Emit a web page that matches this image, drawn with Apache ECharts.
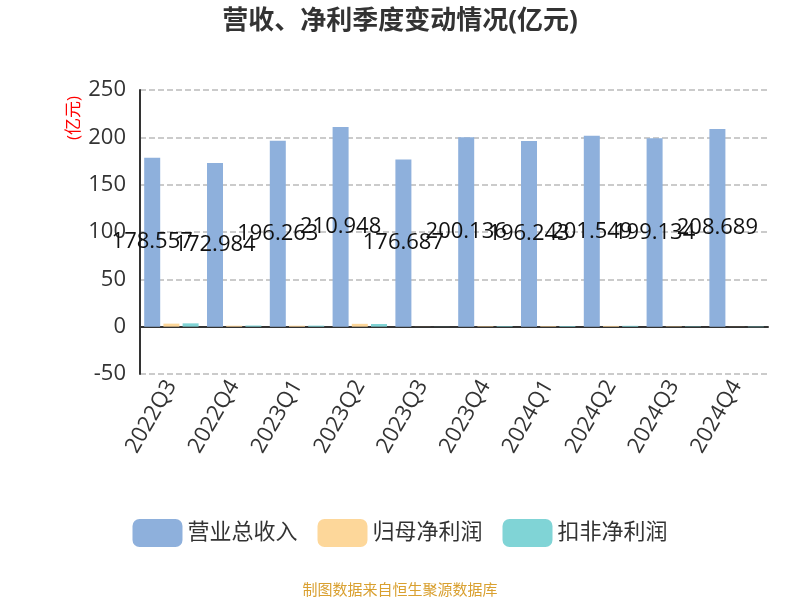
<!DOCTYPE html>
<html><head><meta charset="utf-8">
<script src="https://cdn.jsdelivr.net/npm/echarts@6/dist/echarts.min.js"></script>
<style>body{margin:0}#c{width:800px;height:600px}</style></head>
<body><div id="c"></div>
<script>
var quarters = ['2022Q3','2022Q4','2023Q1','2023Q2','2023Q3','2023Q4','2024Q1','2024Q2','2024Q3','2024Q4'];
var revenue = [178.557,172.984,196.263,210.948,176.687,200.136,196.243,201.549,199.134,208.689];
var netProfit = [3.2,1.0,1.0,3.0,0.1,0.5,0.6,0.8,0.4,0.1];
var netProfitExcl = [3.5,1.2,1.1,2.8,0.1,0.6,0.7,0.9,0.4,-0.5];
var font = '"Open Sans", "Noto Sans CJK SC"';
var chart = echarts.init(document.getElementById('c'));
chart.setOption({
  textStyle: {fontFamily: font},
  title: {text: '营收、净利季度变动情况(亿元)', left: 'center', top: 4,
    textStyle: {fontSize: 26, fontWeight: 'bold', color: '#333', fontFamily: font}},
  grid: {left: 140, right: 32, top: 90, bottom: 226},
  legend: {bottom: 48, itemWidth: 50, itemHeight: 28, itemGap: 20,
    textStyle: {fontSize: 22, color: '#333'}},
  graphic: [
    {type: 'text', left: 'center', bottom: 2,
      style: {text: '制图数据来自恒生聚源数据库', fill: '#d9a030', fontSize: 15, fontFamily: font}},
    {type: 'text', x: 66, y: 140, rotation: Math.PI / 2,
      style: {text: '(亿元)', fill: 'red', fontSize: 17, fontFamily: font}}
  ],
  xAxis: {type: 'category', data: quarters,
    axisLine: {lineStyle: {color: '#333', width: 2}},
    axisTick: {lineStyle: {color: '#333', width: 2}, length: 8},
    axisLabel: {rotate: 60, fontSize: 22, color: '#333', interval: 0}},
  yAxis: {type: 'value', min: -50, max: 250, interval: 50,
    axisLine: {show: true, lineStyle: {color: '#333', width: 2}},
    axisLabel: {fontSize: 22, color: '#333', margin: 14},
    splitLine: {lineStyle: {type: 'dashed', color: '#bbb', width: 1.5}}},
  series: [
    {name: '营业总收入', type: 'bar', data: revenue, barWidth: 16, barGap: '20%',
      itemStyle: {color: '#8eb0dc'},
      label: {show: true, position: 'inside', color: '#111', fontSize: 22}},
    {name: '归母净利润', type: 'bar', data: netProfit, barWidth: 16, itemStyle: {color: '#fdd79a'}},
    {name: '扣非净利润', type: 'bar', data: netProfitExcl, barWidth: 16, itemStyle: {color: '#80d4d6'}}
  ]
});
</script></body></html>
